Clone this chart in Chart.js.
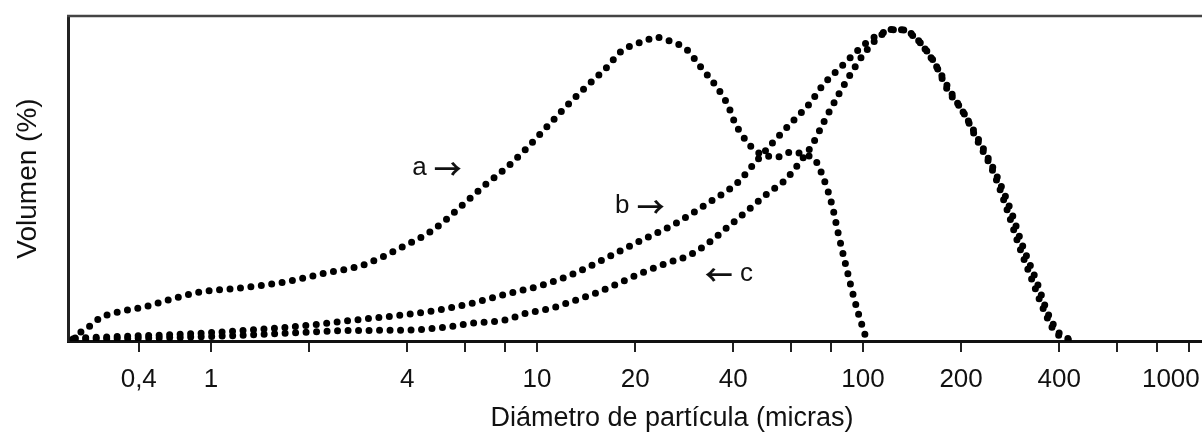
<!DOCTYPE html>
<html>
<head>
<meta charset="utf-8">
<script src="https://cdn.jsdelivr.net/npm/chart.js@4"></script>
<style>
  html, body { margin: 0; padding: 0; background: #fff; overflow: hidden; }
  #wrap { position: relative; width: 1276px; height: 432px; }
</style>
</head>
<body>
<div id="wrap"><canvas id="psd"></canvas></div>
<script>
// ── Curve data: particle diameter (µm) vs volume (%) ───
const aDiam = [0.377, 0.396, 0.425, 0.457, 0.526, 0.627, 0.738, 0.925, 1.23, 1.69, 2.24, 2.93, 3.80, 4.80, 5.81, 6.93, 8.09, 9.32, 10.7, 12.4, 14.0, 16.4, 18.0, 19.7, 21.5, 23.0, 25.1, 28.9, 31.6, 35.2, 38.5, 40.5, 44.4, 47.3, 54.5, 60.6, 66.4, 71.3, 75.4, 80.4, 83.8, 88.1, 92.5, 96.5, 99.3, 102];
const aVol  = [0.6, 2.5, 4.6, 7.1, 9.1, 10.5, 12.6, 15.1, 16.3, 18.2, 20.9, 23.4, 28.6, 34.2, 41.2, 48.0, 53.5, 59.4, 65.8, 72.6, 77.8, 84.3, 88.9, 91.1, 92.3, 93.5, 92.6, 89.5, 84.6, 78.8, 72.6, 67.1, 60.9, 58.2, 56.6, 58.2, 57.2, 55.7, 50.5, 41.8, 33.5, 24.3, 15.7, 8.9, 4.9, 1.2];

const bDiam = [0.383, 0.564, 0.862, 1.32, 1.88, 2.61, 3.85, 4.97, 6.36, 8.09, 10.4, 13.1, 16.5, 20.7, 26.1, 33.5, 41.1, 46.6, 53.7, 60.6, 68.8, 75.4, 85.0, 94.5, 105, 119, 130, 141, 150, 166, 182, 203, 224, 251, 279, 299, 330, 362, 388, 408, 432];
const bVol  = [0.9, 1.5, 2.2, 3.4, 4.6, 6.2, 8.0, 9.5, 11.7, 14.5, 17.2, 20.9, 25.8, 30.8, 35.7, 42.5, 48.6, 54.8, 61.8, 67.4, 73.2, 78.8, 84.0, 88.6, 92.6, 95.4, 95.9, 94.2, 91.7, 85.5, 77.2, 70.5, 61.8, 52.0, 39.4, 30.2, 18.8, 8.6, 2.8, 1.2, 0.2];

const cDiam = [0.383, 0.650, 1.07, 1.79, 2.61, 4.08, 5.30, 6.36, 7.98, 9.32, 11.0, 12.9, 15.4, 18.0, 21.0, 25.1, 29.5, 33.9, 38.5, 44.4, 51.1, 57.7, 64.1, 69.8, 76.4, 85.0, 92.5, 101, 114, 125, 141, 152, 170, 185, 207, 229, 258, 286, 307, 342, 369, 397, 420, 438];
const cVol  = [0.6, 0.9, 1.5, 2.5, 3.2, 3.4, 4.3, 5.5, 6.5, 8.6, 10.0, 12.3, 15.0, 18.0, 21.0, 24.0, 26.5, 30.5, 35.1, 40.3, 45.5, 49.5, 55.1, 60.3, 68.0, 76.6, 82.8, 88.6, 94.2, 96.0, 94.5, 91.0, 83.7, 77.0, 69.0, 61.0, 50.5, 39.4, 30.0, 18.0, 8.6, 2.8, 1.0, 0.3];

// ── Axis ticks ─────────────────────────────────────────
const tickValues = [0.6, 1, 2, 4, 6, 8, 10, 20, 40, 60, 80, 100, 200, 400, 600, 800, 1000];
// the last label carries trailing figure spaces so it sits left of its tick
const tickLabels = ["0,4", "1", "", "4", "", "", "10", "20", "40", "", "", "100", "200", "400", "", "", "1000\u2007\u2007 "];

// ── Curve labels (text, diameter, volume) ──────────────
const noteTexts = ["a \u2192", "b \u2192", "\u2190 c"];
const noteDiam  = [4.14, 17.35, 32.7];
const noteVol   = [53.2, 41.5, 20.6];

const FONT = "'Liberation Sans', Arial, sans-serif";
const ARROW_FONT = "bold 28px 'Noto Sans CJK JP', 'DejaVu Sans', sans-serif";

const pts = (xs, ys) => xs.map((x, i) => ({ x: x, y: ys[i] }));

// dotted curves: zero-length dashes with round caps
const dotted = {
    borderColor: "#000",
    borderWidth: 7,
    borderDash: [0, 10.5],
    borderCapStyle: "round",
    pointRadius: 0,
    cubicInterpolationMode: "monotone",
    fill: false
};

const framePlugin = {
    id: "frame",
    beforeDatasetsDraw(chart) {
        const { ctx, chartArea: { left, right, top } } = chart;
        ctx.save();
        ctx.strokeStyle = "#444";
        ctx.lineWidth = 2.5;
        ctx.beginPath();
        ctx.moveTo(left - 1, top);
        ctx.lineTo(right, top);
        ctx.stroke();
        ctx.restore();
    }
};

// letters in the text font, arrows in a font with a larger open arrow glyph
const notesPlugin = {
    id: "notes",
    afterDatasetsDraw(chart) {
        const { ctx, scales: { x, y } } = chart;
        ctx.save();
        ctx.fillStyle = "#111";
        ctx.textBaseline = "middle";
        ctx.textAlign = "left";
        noteTexts.forEach((t, i) => {
            let px = x.getPixelForValue(noteDiam[i]);
            const py = y.getPixelForValue(noteVol[i]);
            t.split(" ").forEach(part => {
                const isArrow = part === "\u2192" || part === "\u2190";
                ctx.font = isArrow ? ARROW_FONT : "26px " + FONT;
                ctx.fillText(part, px, isArrow ? py + 1 : py);
                px += ctx.measureText(part).width;
                ctx.font = "26px " + FONT;
                px += ctx.measureText(" ").width;
            });
        });
        ctx.restore();
    }
};

new Chart(document.getElementById("psd"), {
    type: "line",
    data: {
        datasets: [
            Object.assign({ label: "a", data: pts(aDiam, aVol) }, dotted),
            Object.assign({ label: "b", data: pts(bDiam, bVol) }, dotted),
            Object.assign({ label: "c", data: pts(cDiam, cVol) }, dotted)
        ]
    },
    options: {
        responsive: true,
        maintainAspectRatio: false,
        animation: false,
        layout: { padding: { top: 16, left: 0, right: 0, bottom: 0 } },
        plugins: {
            legend: { display: false },
            tooltip: { enabled: false }
        },
        scales: {
            x: {
                type: "logarithmic",
                min: 0.364,
                max: 1850,
                afterBuildTicks: s => { s.ticks = tickValues.map(v => ({ value: v })); },
                afterFit: s => { s.height = 91; },
                ticks: {
                    autoSkip: false,
                    maxRotation: 0,
                    padding: 12,
                    color: "#111",
                    font: { family: FONT, size: 26 },
                    callback: (v, i) => tickLabels[i]
                },
                grid: { drawOnChartArea: false, drawTicks: true, tickLength: 11, lineWidth: 2, color: "#222" },
                border: { display: true, width: 3, color: "#111" },
                title: {
                    display: true,
                    text: "Diámetro de partícula (micras)",
                    color: "#111",
                    font: { family: FONT, size: 27, lineHeight: 1 },
                    padding: { top: 0, bottom: 0 }
                }
            },
            y: {
                min: 0,
                max: 100,
                afterFit: s => { s.width = 68; },
                ticks: { display: false },
                grid: { display: false },
                border: { display: true, width: 3, color: "#222" },
                title: {
                    display: true,
                    text: "Volumen (%)",
                    color: "#111",
                    font: { family: FONT, size: 28, lineHeight: 1 },
                    padding: { top: 14, bottom: 0 }
                }
            }
        }
    },
    plugins: [framePlugin, notesPlugin]
});
</script>
</body>
</html>
